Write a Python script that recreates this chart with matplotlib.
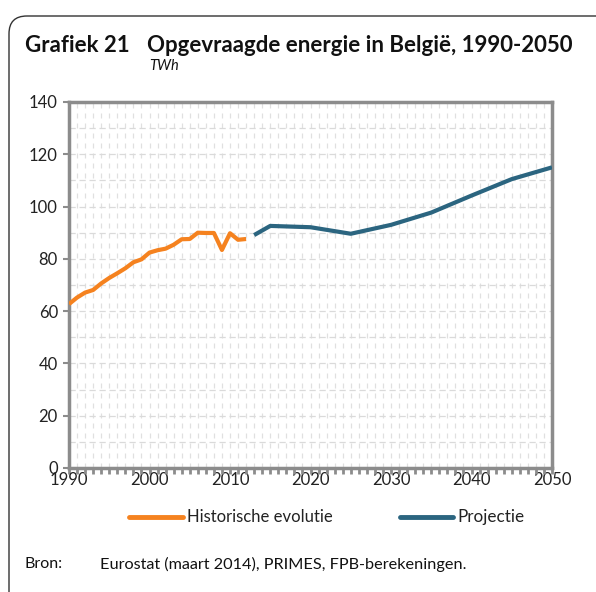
import matplotlib
matplotlib.use("Agg")
import matplotlib.pyplot as plt
from matplotlib.patches import FancyBboxPatch
from matplotlib.lines import Line2D

hist_years = list(range(1990, 2013))
hist_values = [62.7, 65.2, 67.1, 68.1, 70.6, 72.7, 74.5, 76.4, 78.7, 79.8, 82.4, 83.3,
               83.9, 85.4, 87.5, 87.6, 90.0, 89.9, 89.9, 83.4, 89.8, 87.3, 87.6]
proj_years = [2013, 2015, 2020, 2025, 2030, 2035, 2040, 2045, 2050]
proj_values = [89.1, 92.6, 92.1, 89.6, 93.0, 97.7, 104.2, 110.5, 115.0]
x_ticks = [1990, 2000, 2010, 2020, 2030, 2040, 2050]
y_ticks = [0, 20, 40, 60, 80, 100, 120, 140]

orange = "#F5821F"
blue = "#2B6580"
grey = "#8C8C8C"
font = ["Lato", "DejaVu Sans"]

fig = plt.figure(figsize=(5.96, 5.92), dpi=100)
W, H = 596, 592

def fx(px): return px / W
def fy(py): return 1 - py / H

box = FancyBboxPatch((fx(9), fy(640)), fx(620), fy(16) - fy(640),
                     boxstyle="round,pad=0,rounding_size=0.03",
                     transform=fig.transFigure, fill=False, edgecolor="#333333", linewidth=1.0,
                     clip_on=False)
fig.patches.append(box)

fig.text(fx(25), fy(46), "Grafiek 21", fontsize=16, fontweight="bold", family=font,
         va="center", ha="left", color="#111111")
fig.text(fx(147), fy(46), "Opgevraagde energie in België, 1990-2050", fontsize=16,
         fontweight="bold", family=font, va="center", ha="left", color="#111111")
fig.text(fx(149), fy(66), "TWh", fontsize=10.5, style="italic", family=font,
         va="center", ha="left", color="#111111")

ax = fig.add_axes([fx(69), fy(468), fx(552) - fx(69), fy(102) - fy(468)])
ax.plot(hist_years, hist_values, color=orange, linewidth=3, solid_capstyle="butt", zorder=3)
ax.plot(proj_years, proj_values, color=blue, linewidth=3, solid_capstyle="butt", zorder=3)

ax.set_xlim(1990, 2050)
ax.set_ylim(0, 140)
ax.set_xticks(x_ticks)
ax.set_xticks(list(range(1990, 2051)), minor=True)
ax.set_yticks(y_ticks)
ax.set_yticks(list(range(0, 141, 10)), minor=True)

for which in ("major", "minor"):
    ax.grid(which=which, axis="x", color="#E0E0E0", linestyle=(0, (4, 4)), linewidth=0.9)
    ax.grid(which=which, axis="y", color="#DADADA", linestyle=(0, (5, 3)), linewidth=0.9)

for s in ax.spines.values():
    s.set_color(grey)
    s.set_linewidth(2.5)

ax.tick_params(axis="x", which="both", direction="out", length=4, width=2, color=grey,
               labelsize=12, pad=-1, labelcolor="#222222")
ax.tick_params(axis="y", which="major", direction="out", length=4, width=1.5, color=grey,
               labelsize=12, pad=4, labelcolor="#222222")
ax.tick_params(axis="y", which="minor", length=0)
for lab in ax.get_xticklabels() + ax.get_yticklabels():
    lab.set_family(font)

fig.add_artist(Line2D([fx(129), fx(183)], [fy(517), fy(517)], color=orange, linewidth=3.5,
                      solid_capstyle="round", transform=fig.transFigure))
fig.text(fx(187), fy(517), "Historische evolutie", fontsize=12, family=font, va="center",
         ha="left", color="#222222")
fig.add_artist(Line2D([fx(400), fx(453)], [fy(517), fy(517)], color=blue, linewidth=3.5,
                      solid_capstyle="round", transform=fig.transFigure))
fig.text(fx(457), fy(517), "Projectie", fontsize=12.3, family=font, va="center",
         ha="left", color="#222222")

fig.text(fx(25), fy(564), "Bron:", fontsize=11.5, family=font, va="center", ha="left",
         color="#111111")
fig.text(fx(100), fy(564), "Eurostat (maart 2014), PRIMES, FPB-berekeningen.", fontsize=11.7,
         family=font, va="center", ha="left", color="#111111")

fig.savefig("out.png", dpi=100)
